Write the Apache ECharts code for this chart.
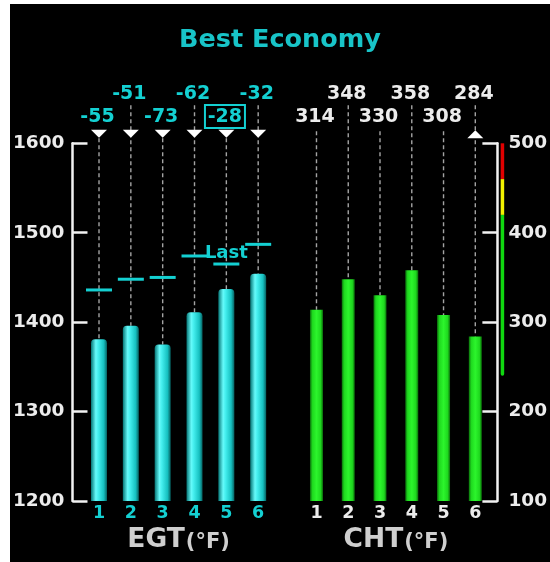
<!DOCTYPE html>
<html><head><meta charset="utf-8">
<script src="https://cdn.jsdelivr.net/npm/echarts@6/dist/echarts.min.js"></script>
<style>html,body{margin:0;padding:0;background:#fff;overflow:hidden}#c{position:absolute;left:10px;top:4px;width:540px;height:558px;background:#000}</style>
</head><body><div id="c"></div>
<script>
// ---- data ----
const cylinders = ['1', '2', '3', '4', '5', '6'];
const egtValues = [1381, 1396, 1375, 1411, 1437, 1454];
const egtPeaks = [1436, 1448, 1450, 1474, 1465, 1487];
const egtDeltas = ['-55', '-51', '-73', '-62', '-28', '-32'];
const chtValues = [314, 348, 330, 358, 308, 284];
const chtLabels = ['314', '348', '330', '358', '308', '284'];
const egtTicks = [1200, 1300, 1400, 1500, 1600];
const chtTicks = [100, 200, 300, 400, 500];
const chtBandFrom = [240, 420, 460];
const chtBandTo = [420, 460, 500];
const chtBandColors = ['#10d810', '#f2f200', '#e00000'];
const lastPeakIndex = 4;
const egtBoxedIndex = 4;
const chtMarkerIndex = 5;

// ---- style ----
const CYAN = '#14d0d2';
const WHITE = '#ececec';
const FONT = 'DejaVu Sans';

function topMarks(texts, textColor, markerFor, boxedIndex) {
  return function (params, api) {
    const i = api.value(0);
    const pt = api.coord([i, api.value(1)]);
    const top = params.coordSys.y;
    const x = pt[0];
    const upper = i % 2 === 1;
    const labelY = top - (upper ? 49.6 : 26.3);
    const lineStart = top - (upper ? 38 : 12);
    const kids = [{
      type: 'line',
      shape: { x1: x, y1: lineStart, x2: x, y2: pt[1] },
      style: { stroke: '#a4a4a4', lineWidth: 1.4, lineDash: [4, 3] }
    }];
    const m = markerFor(i);
    if (m === 'down') {
      kids.push({ type: 'polygon', shape: { points: [[x - 8, top - 13.5], [x + 8, top - 13.5], [x, top - 5.5]] }, style: { fill: '#ffffff' } });
    } else if (m === 'up') {
      kids.push({ type: 'polygon', shape: { points: [[x - 8, top - 5], [x + 8, top - 5], [x, top - 13]] }, style: { fill: '#ffffff' } });
    }
    kids.push({
      type: 'text', x: x - 1.5, y: labelY,
      style: { text: texts[i], fill: textColor, font: 'bold 19px "' + FONT + '"', align: 'center', verticalAlign: 'middle' }
    });
    if (i === boxedIndex) {
      kids.push({ type: 'rect', shape: { x: x - 21.4, y: labelY - 12.1, width: 40, height: 23 }, style: { fill: 'none', stroke: textColor, lineWidth: 2 } });
    }
    return { type: 'group', children: kids };
  };
}

const egtGradient = new echarts.graphic.LinearGradient(0, 0, 1, 0, [
  { offset: 0, color: '#067575' }, { offset: 0.3, color: '#66fafa' }, { offset: 0.45, color: '#44eeee' },
  { offset: 0.8, color: '#16c0c0' }, { offset: 1, color: '#066060' }]);
const chtGradient = new echarts.graphic.LinearGradient(0, 0, 1, 0, [
  { offset: 0, color: '#0a6a0a' }, { offset: 0.18, color: '#1ed81e' }, { offset: 0.5, color: '#2cf52c' },
  { offset: 0.82, color: '#1ed81e' }, { offset: 1, color: '#0a6a0a' }]);

function yAxisCfg(idx, ticks, pos, offset, margin) {
  return {
    gridIndex: idx, type: 'value', position: pos, offset: offset,
    min: ticks[0], max: ticks[ticks.length - 1], interval: ticks[1] - ticks[0],
    axisLine: { show: true, lineStyle: { color: '#f2f2f2', width: 2.5 } },
    axisTick: { show: true, inside: true, length: 15, lineStyle: { color: '#f2f2f2', width: 2.5 } },
    axisLabel: { color: WHITE, fontFamily: FONT, fontSize: 18.5, fontWeight: 'bold', margin: margin, formatter: (v) => String(v) },
    splitLine: { show: false }
  };
}
function xAxisCfg(idx, labelColor, nameMain) {
  return {
    gridIndex: idx, type: 'category', data: cylinders,
    axisLine: { show: false }, axisTick: { show: false },
    axisLabel: { color: labelColor, fontFamily: FONT, fontSize: 17.5, fontWeight: 'bold', margin: 3 },
    name: '{a|' + nameMain + '}{b|(°F)}', nameLocation: 'middle', nameGap: 24,
    nameTextStyle: {
      rich: {
        a: { fontSize: 26.5, fontWeight: 'bold', fontFamily: FONT, color: '#cfcfcf', verticalAlign: 'bottom' },
        b: { fontSize: 21, fontWeight: 'bold', fontFamily: FONT, color: '#cfcfcf', verticalAlign: 'bottom', padding: [0, 0, 1, 1] }
      }
    }
  };
}

const chart = echarts.init(document.getElementById('c'));
chart.setOption({
  backgroundColor: '#000',
  animation: false,
  title: {
    text: 'Best Economy', left: 'center', top: 18,
    textStyle: { color: '#18c4c8', fontFamily: FONT, fontSize: 25.5, fontWeight: 'bold' }
  },
  grid: [
    { left: 70.6, top: 139.3, width: 193.5, height: 357.7 },
    { left: 290.6, top: 139.3, width: 193.2, height: 357.7 }
  ],
  xAxis: [xAxisCfg(0, CYAN, 'EGT'), xAxisCfg(1, WHITE, 'CHT')],
  yAxis: [yAxisCfg(0, egtTicks, 'left', 10.6, 8), yAxisCfg(1, chtTicks, 'right', 6.2, 11)],
  series: [
    {
      type: 'bar', xAxisIndex: 0, yAxisIndex: 0, data: egtValues, barWidth: 16,
      itemStyle: { color: egtGradient, borderRadius: [4, 4, 0, 0] }, z: 3
    },
    {
      type: 'custom', xAxisIndex: 0, yAxisIndex: 0, z: 2,
      data: egtValues.map((v, i) => [i, v]),
      renderItem: topMarks(egtDeltas, CYAN, () => 'down', egtBoxedIndex)
    },
    {
      type: 'scatter', xAxisIndex: 0, yAxisIndex: 0, symbol: 'rect', symbolSize: [26, 3], z: 4,
      itemStyle: { color: CYAN, opacity: 1 },
      emphasis: { disabled: true },
      data: egtPeaks.map((v, i) => i === lastPeakIndex ? {
        value: v,
        label: { show: true, formatter: 'Last', position: 'top', distance: 0, color: CYAN, opacity: 1, fontFamily: FONT, fontSize: 18, fontWeight: 'bold' }
      } : v)
    },
    {
      type: 'bar', xAxisIndex: 1, yAxisIndex: 1, data: chtValues, barWidth: 13,
      itemStyle: { color: chtGradient }, z: 3
    },
    {
      type: 'custom', xAxisIndex: 1, yAxisIndex: 1, z: 2,
      data: chtValues.map((v, i) => [i, v]),
      renderItem: topMarks(chtLabels, WHITE, (i) => i === chtMarkerIndex ? 'up' : null, -1)
    },
    {
      type: 'custom', xAxisIndex: 1, yAxisIndex: 1, z: 2,
      data: chtBandFrom.map((f, k) => [0, f, chtBandTo[k]]),
      encode: { x: 0, y: [1, 2] },
      renderItem: function (params, api) {
        const y1 = api.coord([0, api.value(1)])[1];
        const y2 = api.coord([0, api.value(2)])[1];
        const cs = params.coordSys;
        return {
          type: 'rect',
          shape: { x: cs.x + cs.width + 9.5, y: y2, width: 3.5, height: y1 - y2, r: params.dataIndex === 0 ? [0, 0, 1.7, 1.7] : 0 },
          style: { fill: chtBandColors[params.dataIndex] }
        };
      }
    }
  ]
});
</script></body></html>
